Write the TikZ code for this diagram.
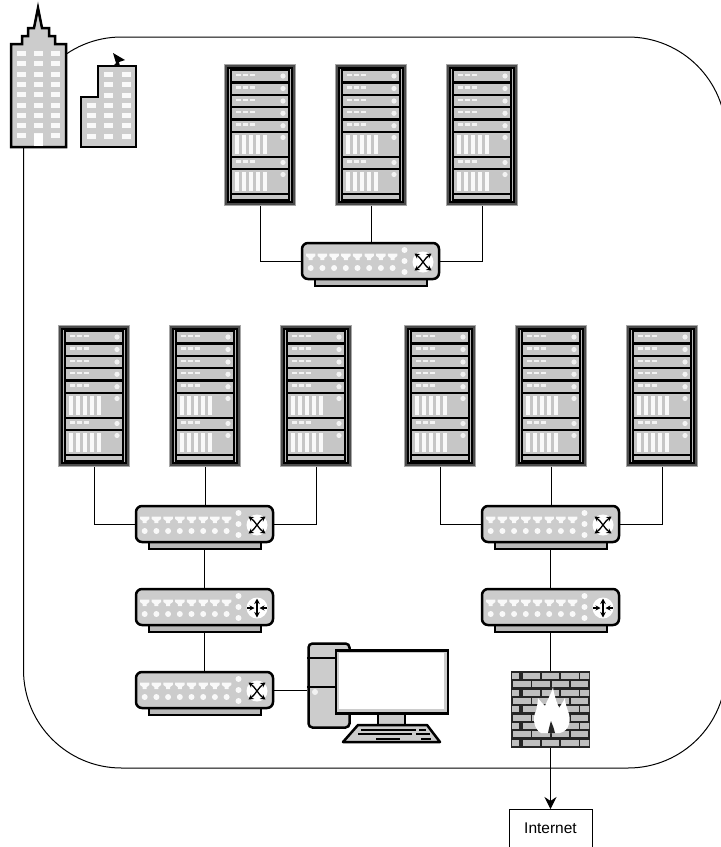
\documentclass[tikz,border=0pt]{standalone}
\usepackage{fontspec}
\setmainfont{Liberation Sans}
\usetikzlibrary{arrows.meta}

% shelves of a rack
\newcommand{\shelfsmall}[1]{%
  \fill[gray!45] (8,#1) rectangle (64,#1+10);
  \foreach \xd in {12,19,26} \fill[white!90!gray] (\xd,#1+2.5) rectangle (\xd+4.5,#1+5);
  \fill[white!90!gray] (59,#1+5) circle (2.6pt);
  \draw[line width=2pt] (7,#1+11.2) -- (65,#1+11.2);
}
\newcommand{\shelfbig}[1]{%
  \fill[gray!45] (8,#1) rectangle (64,#1+22.5);
  \foreach \xd in {10.5,17.5,24.5,31.5,38.5} \fill[white!95!gray] (\xd,#1+2) rectangle (\xd+4.6,#1+20.5);
  \fill[white!90!gray] (59,#1+4.5) circle (2.6pt);
  \draw[line width=2pt] (7,#1+23.6) -- (65,#1+23.6);
}
% body of switch and router
\newcommand{\devbody}{%
  \fill[gray!55] (14,38) rectangle (126,44);
  \draw[line width=1.6pt] (14,38) -- (14,44) -- (126,44) -- (126,38);
  \node[draw, line width=2.5pt, rounded corners=6pt, fill=gray!40, minimum width=137pt, minimum height=36pt,
        inner sep=0pt] (-body) at (69.5,19) {};
  \coordinate (-foot) at (69.5,44);
  \foreach \xp in {0,...,7} {
    \fill[white!95!gray] (5+\xp*11.7,11.5) -- (14.4+\xp*11.7,11.5) -- (14.4+\xp*11.7,14) -- (11.7+\xp*11.7,16) -- (11.7+\xp*11.7,18) -- (7.7+\xp*11.7,18) -- (7.7+\xp*11.7,16) -- (5+\xp*11.7,14) -- cycle;
    \fill[white!95!gray] (9.7+\xp*11.7,26) circle (3pt);
  }
  \foreach \yd in {8,19,30} \fill[white!95!gray] (103.5,\yd) circle (3pt);
  \fill[white] (122,20) circle (10.5pt);
}

\tikzset{
  pics/rack/.style={code={
    \node[draw=gray!70, line width=1.5pt, fill=gray!60!black, minimum width=71pt, minimum height=141pt, inner sep=0pt] (-body) at (36,71) {};
    \draw[line width=1.5pt, fill=gray!55] (4,4) rectangle (68,138);
    \draw[line width=1.5pt, fill=black] (6.5,5.5) rectangle (65.5,136);
    \shelfsmall{7} \shelfsmall{19.5} \shelfsmall{32} \shelfsmall{44.3} \shelfsmall{56.7}
    \shelfbig{69} \shelfsmall{93.5} \shelfbig{106}
    \fill[gray!45] (8,131) rectangle (64,134.5);
  }},
  pics/switch/.style={code={
    \devbody
    \draw[{Stealth[length=5pt,width=5.5pt]}-{Stealth[length=5pt,width=5.5pt]}, line width=1.3pt] (113.5,11.5) .. controls (120,16) and (124,24) .. (130.5,28.5);
    \draw[{Stealth[length=5pt,width=5.5pt]}-{Stealth[length=5pt,width=5.5pt]}, line width=1.3pt] (130.5,11.5) .. controls (124,16) and (120,24) .. (113.5,28.5);
  }},
  pics/router/.style={code={
    \devbody
    \draw[{Stealth[length=5.5pt,width=5.5pt]}-{Stealth[length=5.5pt,width=5.5pt]}, line width=1.2pt] (122,10.5) -- (122,29.5);
    \draw[-{Stealth[length=5pt,width=5pt]}, line width=1.2pt] (112,20) -- (119.5,20);
    \draw[-{Stealth[length=5pt,width=5pt]}, line width=1.2pt] (132,20) -- (124.5,20);
  }},
}

\begin{document}
\begin{tikzpicture}[x=1pt, y=-1pt, >={Stealth[length=12pt,width=12pt]},
  site/.style={draw, line width=1pt, rounded corners=98pt, minimum width=702.5pt, minimum height=731pt, inner sep=0pt},
  link/.style={draw, line width=1pt},
  tower/.style={draw, line width=2.5pt, rounded corners=4pt, fill=gray!40, minimum width=41pt, minimum height=84pt, inner sep=0pt},
  screen/.style={draw, line width=2.5pt, fill=gray!40, minimum width=112pt, minimum height=63pt, inner sep=0pt},
  wall/.style={fill=gray!30!black, minimum width=79pt, minimum height=77pt, inner sep=0pt},
  cloud/.style={draw, line width=1pt, fill=white, minimum width=83pt, minimum height=38pt, inner sep=0pt, font=\fontsize{15.5}{18}\selectfont},
  winlit/.style={fill=white!95!gray},
  house/.style={draw, line width=2.5pt, fill=gray!40, line join=miter},
]
  \useasboundingbox (0,0) rectangle (721,847);
  \node[site] (site) at (374.75,402.5) {};

  % buildings
  \draw[house] (11,44) -- (22,44) -- (22,36) -- (28,36) -- (28,28) -- (34,28) -- (38,8) -- (42,28) -- (49,28) -- (49,36) -- (55,36) -- (55,44) -- (66,44) -- (66,147) -- (11,147) -- cycle;
  \foreach \xw in {21,38,55} \foreach \yw in {0,...,8} \fill[winlit] (\xw-4.5,53.5+\yw*10.3-2.5) rectangle (\xw+4.5,53.5+\yw*10.3+2.5);
  \fill[white] (33.5,134) rectangle (43,146);
  \draw[house] (81,147) -- (81,97) -- (98,97) -- (98,66) -- (136,66) -- (136,147) -- cycle;
  \foreach \xw in {91,108,126} \foreach \yw in {105,115,125,136} \fill[winlit] (\xw-4.5,\yw-2.5) rectangle (\xw+4.5,\yw+2.5);
  \foreach \xw in {108,126} \foreach \yw in {74,84,95} \fill[winlit] (\xw-4.5,\yw-2.5) rectangle (\xw+4.5,\yw+2.5);
  \fill[black] (113,53) -- (125,60) -- (119,62) -- (120,66) -- (113,66) -- (116,63) -- cycle;

  % racks
  \foreach \xn/\xx/\yy in {1/224/64, 2/335/64, 3/446/64, 4/58/325, 5/169/325, 6/280/325, 7/404/325, 8/515/325, 9/626/325} {
    \pic (R\xn) at (\xx,\yy) {rack};
  }

  % switches and routers
  \pic (SWT) at (301,242) {switch};
  \pic (SWL) at (135,505) {switch};
  \pic (SWR) at (481,505) {switch};
  \pic (RTL) at (135,588) {router};
  \pic (RTR) at (481,588) {router};
  \pic (SWP) at (135,671) {switch};

  % computer
  \node[tower] (pc) at (329,685.5) {};
  \draw[line width=2.5pt] (pc.west |- 0,658) -- (335,658);
  \draw[line width=2.5pt] (pc.west |- 0,687) -- (335,687);
  \fill[white!90!gray] (315,692) circle (3pt);
  \fill[gray!40] (378,714) rectangle (405,725);
  \draw[line width=2.5pt] (378,714) -- (378,725);
  \draw[line width=2.5pt] (405,714) -- (405,725);
  \node[screen] (mon) at (392,682) {};
  \fill[white] (338.5,653) rectangle (443.5,708.5);
  \draw[line width=2.5pt, fill=gray!40, line join=round] (343,742) -- (358,725) -- (427,725) -- (440,742) -- cycle;
  \draw[line width=2pt] (361,729.5) -- (416,729.5);
  \draw[line width=2pt] (358,734) -- (412,734);
  \draw[line width=2pt] (376,738.5) -- (400,738.5);
  \draw[line width=2pt] (419,729.5) -- (426,729.5);
  \draw[line width=2pt] (416,734) -- (430,734);
  \draw[line width=2pt] (421,738.5) -- (431,738.5);

  % firewall
  \node[wall] (fw) at (550.5,709.5) {};
  \begin{scope}
    \clip (512,672) rectangle (589,747);
    \foreach \yb in {0,2,4,6,8} {
      \fill[gray!50] (512,672.8+\yb*8.35) rectangle (519,678.8+\yb*8.35);
      \foreach \xb in {0,...,3} \fill[gray!50] (522.5+\xb*19.3,672.8+\yb*8.35) rectangle (540+\xb*19.3,678.8+\yb*8.35);
    }
    \foreach \yb in {1,3,5,7} \foreach \xb in {0,...,3} \fill[gray!50] (513+\xb*19.3,672.8+\yb*8.35) rectangle (530.5+\xb*19.3,678.8+\yb*8.35);
  \end{scope}
  \fill[white] (541,733) .. controls (534,729) and (532,718) .. (536,711) .. controls (537,706) and (538,702) .. (538,698) .. controls (541,702) and (543,704) .. (545,706) .. controls (547,700) and (551,695) .. (553,687) .. controls (554,695) and (557,703) .. (559,708) .. controls (561,705) and (563,702) .. (565,698) .. controls (565,708) and (572,715) .. (569,724) .. controls (568,729) and (564,732) .. (560,733) -- cycle;
  \fill[gray!30!black] (548,733) .. controls (549,728) and (550,724) .. (551,721) .. controls (552,724) and (554,728) .. (555,733) -- cycle;

  \node[cloud] (net) at (550.5,828.5) {Internet};

  % links
  \draw[link] (R1-body.south) |- (SWT-body.west);
  \draw[link] (R2-body.south) -- (SWT-body.north -| R2-body.south);
  \draw[link] (R3-body.south) |- (SWT-body.east);
  \draw[link] (R4-body.south) |- (SWL-body.west);
  \draw[link] (R5-body.south) -- (SWL-body.north -| R5-body.south);
  \draw[link] (R6-body.south) |- (SWL-body.east);
  \draw[link] (R7-body.south) |- (SWR-body.west);
  \draw[link] (R8-body.south) -- (SWR-body.north -| R8-body.south);
  \draw[link] (R9-body.south) |- (SWR-body.east);
  \draw[link] (SWL-foot) -- (RTL-body.north);
  \draw[link] (SWR-foot) -- (RTR-body.north);
  \draw[link] (RTL-foot) -- (SWP-body.north);
  \draw[link] (RTR-foot) -- (fw.north);
  \draw[link] (SWP-body.east) -- (SWP-body.east -| pc.west);
  \draw[link, ->] (fw.south) -- (net.north);
\end{tikzpicture}
\end{document}
